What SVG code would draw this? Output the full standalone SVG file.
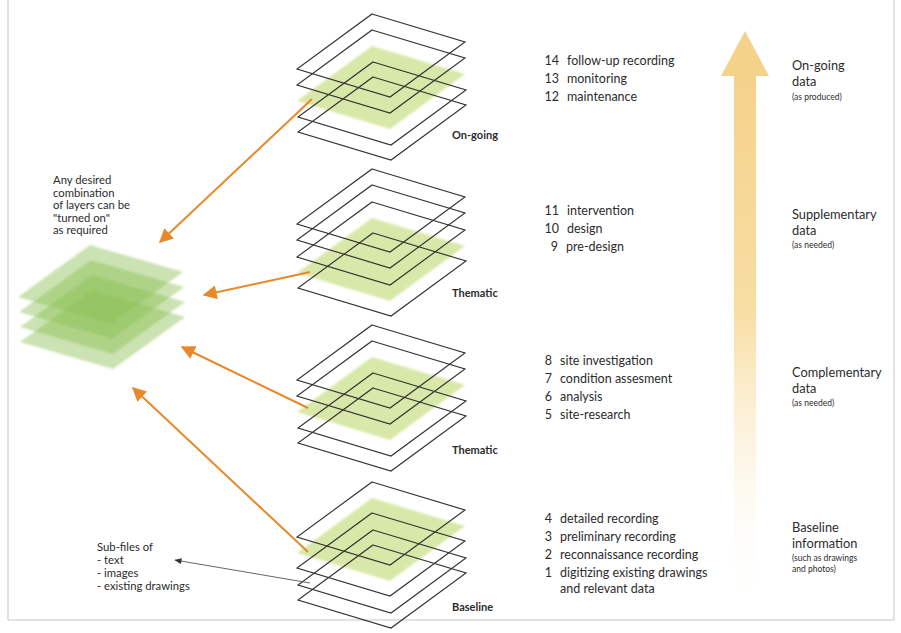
<svg xmlns="http://www.w3.org/2000/svg" width="901" height="633" viewBox="0 0 901 633">
  <defs>
    <style>
      text { font-family: "Lato", "Open Sans", "Liberation Sans", sans-serif; fill: #2c2c2c; }
      .item { font-size: 12.5px; }
      .stacklabel { font-size: 11px; font-weight: bold; }
      .note { font-size: 11.3px; }
      .head { font-size: 12.8px; }
      .sub { font-size: 8.5px; }
      .sheet { fill: none; stroke: #333; stroke-width: 1.15; }
      .layer { fill: #d6e7a4; opacity: 0.95; }
      .combo { fill: #8cc255; fill-opacity: 0.45; }
      .link { fill: none; stroke: #e5892c; stroke-width: 2; }
      .ref { fill: none; stroke: #555; stroke-width: 0.9; }
    </style>
    <!-- one data sheet seen in oblique projection -->
    <path id="sheet" d="M0,0 L93,28 L18,83 L-75,55 Z"/>
    <path id="comboSheet" d="M0,0 L93,27 L21,79 L-72,52 Z"/>
    <filter id="soft" x="-10%" y="-10%" width="120%" height="120%">
      <feGaussianBlur stdDeviation="1.2"/>
    </filter>
    <linearGradient id="riseFill" x1="0" y1="0" x2="0" y2="1">
      <stop offset="0" stop-color="#f5d28a"/>
      <stop offset="0.45" stop-color="#f8dea4"/>
      <stop offset="1" stop-color="#ffffff" stop-opacity="0"/>
    </linearGradient>
    <marker id="orangeHead" viewBox="0 0 10 10" refX="9" refY="5" markerWidth="8" markerHeight="7" orient="auto-start-reverse" markerUnits="strokeWidth">
      <path d="M0,0 L10,5 L0,10 Z" fill="#e5892c"/>
    </marker>
    <marker id="greyHead" viewBox="0 0 10 10" refX="9" refY="5" markerWidth="11" markerHeight="8" orient="auto-start-reverse" markerUnits="strokeWidth">
      <path d="M0,1 L10,5 L0,9 Z" fill="#333"/>
    </marker>
  </defs>

  <rect x="0" y="0" width="901" height="633" fill="#ffffff"/>
  <!-- page frame -->
  <path d="M8,0 L8,620 L894,620 L894,0" fill="none" stroke="#c4c4c4" stroke-width="1"/>

  <!-- rising data arrow -->
  <g id="data-arrow">
    <rect x="734" y="72" width="22" height="540" fill="url(#riseFill)"/>
    <path d="M745,31 L769,76 L721,76 Z" fill="#f5d28a"/>
  </g>

  <!-- combined view on the left -->
  <g id="combined">
    <use href="#comboSheet" x="90" y="245" class="combo" filter="url(#soft)"/>
    <use href="#comboSheet" x="91" y="260" class="combo" filter="url(#soft)"/>
    <use href="#comboSheet" x="92" y="275" class="combo" filter="url(#soft)"/>
    <use href="#comboSheet" x="92" y="290" class="combo" filter="url(#soft)"/>
    <text class="note" x="53" y="184">Any desired</text>
    <text class="note" x="53" y="196.5">combination</text>
    <text class="note" x="53" y="209">of layers can be</text>
    <text class="note" x="53" y="221.5">"turned on"</text>
    <text class="note" x="53" y="234">as required</text>
  </g>

  <!-- on-going stack -->
  <g id="stack-ongoing">
    <use href="#sheet" x="372" y="46" class="layer" filter="url(#soft)"/>
    <use href="#sheet" x="372" y="14" class="sheet"/>
    <use href="#sheet" x="372" y="30" class="sheet"/>
    <use href="#sheet" x="373" y="62" class="sheet"/>
    <use href="#sheet" x="373" y="77" class="sheet"/>
    <text class="stacklabel" x="452" y="139">On-going</text>
  </g>

  <!-- first thematic stack -->
  <g id="stack-thematic-a">
    <use href="#sheet" x="372" y="218" class="layer" filter="url(#soft)"/>
    <use href="#sheet" x="372" y="169" class="sheet"/>
    <use href="#sheet" x="372" y="185" class="sheet"/>
    <use href="#sheet" x="372" y="202" class="sheet"/>
    <use href="#sheet" x="373" y="233" class="sheet"/>
    <text class="stacklabel" x="452" y="297">Thematic</text>
  </g>

  <!-- second thematic stack -->
  <g id="stack-thematic-b">
    <use href="#sheet" x="372" y="357" class="layer" filter="url(#soft)"/>
    <use href="#sheet" x="372" y="325" class="sheet"/>
    <use href="#sheet" x="372" y="341" class="sheet"/>
    <use href="#sheet" x="373" y="373" class="sheet"/>
    <use href="#sheet" x="373" y="388" class="sheet"/>
    <text class="stacklabel" x="452" y="454">Thematic</text>
  </g>

  <!-- baseline stack -->
  <g id="stack-baseline">
    <use href="#sheet" x="372" y="498" class="layer" filter="url(#soft)"/>
    <use href="#sheet" x="372" y="482" class="sheet"/>
    <use href="#sheet" x="372" y="513" class="sheet"/>
    <use href="#sheet" x="373" y="530" class="sheet"/>
    <use href="#sheet" x="373" y="545" class="sheet"/>
    <text class="stacklabel" x="452" y="611">Baseline</text>
  </g>

  <!-- connectors -->
  <g id="connectors">
    <line class="link" x1="312" y1="99" x2="160" y2="242" marker-end="url(#orangeHead)"/>
    <line class="link" x1="310" y1="272" x2="204" y2="295" marker-end="url(#orangeHead)"/>
    <line class="link" x1="308" y1="408" x2="182" y2="347" marker-end="url(#orangeHead)"/>
    <line class="link" x1="308" y1="552" x2="133" y2="388" marker-end="url(#orangeHead)"/>
    <line class="ref" x1="310" y1="583" x2="175" y2="560" marker-end="url(#greyHead)"/>
  </g>

  <!-- sub-file note -->
  <g id="subfiles">
    <text class="note" x="97" y="551">Sub-files of</text>
    <text class="note" x="97" y="564">- text</text>
    <text class="note" x="97" y="577">- images</text>
    <text class="note" x="97" y="590">- existing drawings</text>
  </g>

  <!-- activity lists -->
  <g id="list-ongoing" class="item">
    <text x="559" y="65" text-anchor="end">14</text><text x="567" y="65">follow-up recording</text>
    <text x="559" y="83" text-anchor="end">13</text><text x="567" y="83">monitoring</text>
    <text x="559" y="101" text-anchor="end">12</text><text x="567" y="101">maintenance</text>
  </g>
  <g id="list-supplementary" class="item">
    <text x="559" y="214.5" text-anchor="end">11</text><text x="567" y="214.5">intervention</text>
    <text x="559" y="232.5" text-anchor="end">10</text><text x="567" y="232.5">design</text>
    <text x="558" y="250.5" text-anchor="end">9</text><text x="566" y="250.5">pre-design</text>
  </g>
  <g id="list-complementary" class="item">
    <text x="552" y="364.5" text-anchor="end">8</text><text x="560" y="364.5">site investigation</text>
    <text x="552" y="382.5" text-anchor="end">7</text><text x="560" y="382.5">condition assesment</text>
    <text x="552" y="400.5" text-anchor="end">6</text><text x="560" y="400.5">analysis</text>
    <text x="552" y="418.5" text-anchor="end">5</text><text x="560" y="418.5">site-research</text>
  </g>
  <g id="list-baseline" class="item">
    <text x="552" y="522.5" text-anchor="end">4</text><text x="560" y="522.5">detailed recording</text>
    <text x="552" y="540.5" text-anchor="end">3</text><text x="560" y="540.5">preliminary recording</text>
    <text x="552" y="558.5" text-anchor="end">2</text><text x="560" y="558.5">reconnaissance recording</text>
    <text x="552" y="576.5" text-anchor="end">1</text><text x="560" y="576.5">digitizing existing drawings</text>
    <text x="560" y="592.5">and relevant data</text>
  </g>

  <!-- data categories -->
  <g id="cat-ongoing">
    <text class="head" x="792" y="70">On-going</text>
    <text class="head" x="792" y="86">data</text>
    <text class="sub" x="792" y="100">(as produced)</text>
  </g>
  <g id="cat-supplementary">
    <text class="head" x="792" y="219">Supplementary</text>
    <text class="head" x="792" y="235">data</text>
    <text class="sub" x="792" y="248">(as needed)</text>
  </g>
  <g id="cat-complementary">
    <text class="head" x="792" y="377">Complementary</text>
    <text class="head" x="792" y="393">data</text>
    <text class="sub" x="792" y="406">(as needed)</text>
  </g>
  <g id="cat-baseline">
    <text class="head" x="792" y="532">Baseline</text>
    <text class="head" x="792" y="548">information</text>
    <text class="sub" x="792" y="561">(such as drawings</text>
    <text class="sub" x="792" y="572">and photos)</text>
  </g>
</svg>
